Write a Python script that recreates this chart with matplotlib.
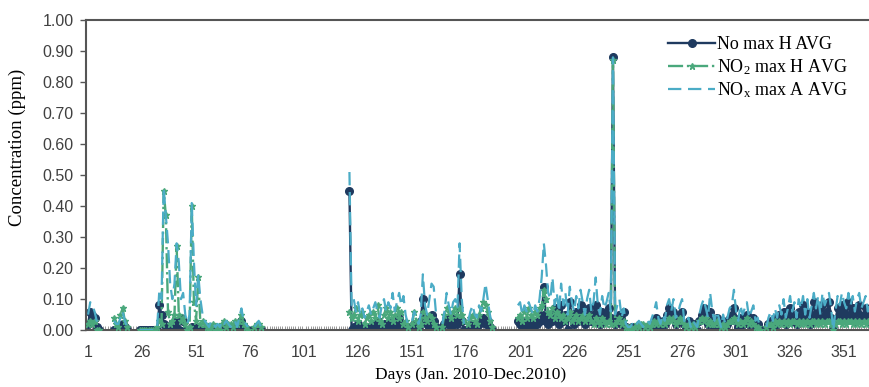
import numpy as np
import matplotlib
matplotlib.use('Agg')
import matplotlib.pyplot as plt
from matplotlib.ticker import MultipleLocator, FormatStrFormatter

nan = np.nan

# daily maxima / averages, day 1..365 (nan = no data)
no_max_h = [
    0.02, 0.06, 0.05, 0.04, 0.01, 0.00, nan, nan, nan, nan,
    nan, nan, 0.00, 0.00, 0.00, 0.01, 0.02, 0.01, 0.00, nan,
    nan, nan, nan, nan, 0.00, 0.00, 0.00, 0.00, 0.00, 0.00,
    0.00, 0.00, 0.00, 0.08, 0.05, 0.02, 0.00, 0.00, 0.01, 0.02,
    0.01, 0.03, 0.00, 0.04, 0.03, 0.00, 0.00, 0.00, 0.01, 0.00,
    0.00, 0.01, 0.00, 0.00, 0.00, 0.01, 0.00, 0.00, 0.00, 0.00,
    0.00, 0.00, 0.01, 0.00, 0.00, 0.01, 0.00, 0.01, 0.00, 0.01,
    0.02, 0.03, 0.01, 0.00, 0.00, nan, nan, 0.00, 0.00, 0.00,
    0.00, nan, nan, nan, nan, nan, nan, nan, nan, nan,
    nan, nan, nan, nan, nan, nan, nan, nan, nan, nan,
    nan, nan, nan, nan, nan, nan, nan, nan, nan, nan,
    nan, nan, nan, nan, nan, nan, nan, nan, nan, nan,
    nan, 0.45, 0.00, 0.01, 0.00, 0.02, 0.00, 0.01, 0.00, 0.00,
    0.01, 0.00, 0.02, 0.00, 0.03, 0.01, 0.00, 0.02, 0.01, 0.00,
    0.03, 0.02, 0.00, 0.01, 0.04, 0.02, 0.00, 0.01, 0.00, nan,
    0.01, 0.02, 0.01, 0.00, 0.03, 0.10, 0.04, 0.02, 0.01, 0.05,
    0.03, 0.01, nan, nan, 0.00, 0.02, 0.04, 0.03, 0.01, 0.03,
    0.04, 0.02, 0.18, 0.03, 0.00, nan, 0.00, 0.01, 0.02, 0.01,
    0.00, 0.02, 0.03, 0.04, 0.02, 0.03, 0.01, 0.00, nan, nan,
    nan, nan, nan, nan, nan, nan, nan, nan, nan, 0.03,
    0.02, 0.00, 0.01, 0.03, 0.02, 0.00, 0.01, 0.03, 0.02, 0.03,
    0.05, 0.14, 0.03, 0.02, 0.05, 0.03, 0.07, 0.04, 0.02, 0.08,
    0.03, 0.05, 0.00, 0.09, 0.04, 0.02, 0.06, 0.03, 0.08, 0.05,
    0.02, 0.04, 0.07, 0.03, 0.05, 0.08, 0.04, 0.02, 0.06, 0.03,
    0.05, 0.07, 0.04, 0.88, 0.02, 0.03, 0.05, 0.02, 0.06, 0.01,
    0.00, 0.00, 0.01, 0.00, 0.00, 0.00, 0.01, 0.00, 0.00, 0.01,
    0.00, 0.02, 0.01, 0.04, 0.02, 0.00, 0.03, 0.02, 0.05, 0.07,
    0.04, 0.06, 0.02, 0.03, 0.05, 0.06, 0.02, 0.01, 0.03, 0.00,
    0.02, 0.01, 0.00, 0.03, 0.05, 0.07, 0.04, 0.02, 0.06, 0.03,
    0.01, 0.04, 0.02, 0.00, 0.03, 0.01, 0.02, 0.04, 0.05, 0.07,
    0.03, 0.01, 0.04, 0.02, 0.03, 0.05, 0.02, 0.03, 0.04, 0.01,
    0.02, 0.00, nan, nan, 0.00, 0.02, 0.03, 0.01, 0.04, 0.02,
    0.05, 0.03, 0.06, 0.02, 0.04, 0.07, 0.03, 0.05, 0.02, 0.06,
    0.04, 0.08, 0.03, 0.06, 0.02, 0.05, 0.09, 0.04, 0.07, 0.03,
    0.08, 0.05, 0.06, 0.09, 0.04, 0.00, 0.03, 0.07, 0.05, 0.08,
    0.06, 0.04, 0.09, 0.05, 0.07, 0.03, 0.06, 0.08, 0.04, 0.05,
    0.07, 0.03, 0.06, 0.04, 0.05,
]

no2_max_h = [
    0.02, 0.03, 0.02, 0.03, 0.00, 0.00, nan, nan, nan, nan,
    nan, nan, 0.04, 0.02, 0.01, 0.05, 0.07, 0.03, 0.01, nan,
    nan, nan, nan, nan, 0.00, 0.00, 0.00, 0.00, 0.00, 0.00,
    0.00, 0.00, 0.01, 0.03, 0.02, 0.45, 0.37, 0.06, 0.02, 0.03,
    0.05, 0.27, 0.05, 0.03, 0.04, 0.02, 0.00, 0.01, 0.40, 0.09,
    0.03, 0.17, 0.02, 0.03, 0.02, 0.01, 0.00, 0.01, 0.02, 0.00,
    0.01, 0.00, 0.02, 0.03, 0.01, 0.02, 0.02, 0.01, 0.03, 0.02,
    0.03, 0.05, 0.02, 0.01, 0.00, nan, nan, 0.01, 0.02, 0.02,
    0.01, nan, nan, nan, nan, nan, nan, nan, nan, nan,
    nan, nan, nan, nan, nan, nan, nan, nan, nan, nan,
    nan, nan, nan, nan, nan, nan, nan, nan, nan, nan,
    nan, nan, nan, nan, nan, nan, nan, nan, nan, nan,
    nan, 0.06, 0.04, 0.05, 0.07, 0.03, 0.05, 0.06, 0.02, 0.04,
    0.05, 0.03, 0.06, 0.04, 0.08, 0.03, 0.02, 0.05, 0.07, 0.04,
    0.06, 0.03, 0.05, 0.07, 0.04, 0.06, 0.02, 0.03, 0.01, nan,
    0.02, 0.06, 0.03, 0.01, 0.02, 0.06, 0.04, 0.03, 0.05, 0.04,
    0.02, 0.01, nan, nan, 0.01, 0.05, 0.07, 0.06, 0.04, 0.06,
    0.07, 0.05, 0.07, 0.05, 0.03, nan, 0.02, 0.04, 0.05, 0.03,
    0.02, 0.05, 0.07, 0.09, 0.08, 0.06, 0.03, 0.01, nan, nan,
    nan, nan, nan, nan, nan, nan, nan, nan, nan, 0.04,
    0.05, 0.03, 0.06, 0.04, 0.07, 0.05, 0.04, 0.06, 0.05, 0.07,
    0.08, 0.13, 0.10, 0.06, 0.05, 0.07, 0.04, 0.06, 0.05, 0.04,
    0.05, 0.03, 0.04, 0.06, 0.03, 0.04, 0.05, 0.03, 0.04, 0.05,
    0.03, 0.04, 0.05, 0.03, 0.02, 0.04, 0.03, 0.02, 0.04, 0.03,
    0.02, 0.03, 0.02, 0.87, 0.02, 0.03, 0.04, 0.02, 0.03, 0.01,
    0.01, 0.01, 0.00, 0.01, 0.02, 0.01, 0.02, 0.02, 0.01, 0.02,
    0.01, 0.02, 0.03, 0.02, 0.03, 0.02, 0.03, 0.02, 0.03, 0.04,
    0.03, 0.04, 0.02, 0.03, 0.04, 0.03, 0.02, 0.01, 0.02, 0.01,
    0.02, 0.01, 0.02, 0.03, 0.04, 0.03, 0.04, 0.02, 0.03, 0.02,
    0.02, 0.03, 0.02, 0.01, 0.02, 0.01, 0.02, 0.03, 0.03, 0.04,
    0.03, 0.02, 0.03, 0.02, 0.03, 0.04, 0.02, 0.03, 0.02, 0.01,
    0.01, 0.00, nan, nan, 0.01, 0.02, 0.02, 0.01, 0.03, 0.02,
    0.03, 0.02, 0.03, 0.02, 0.03, 0.02, 0.03, 0.03, 0.02, 0.03,
    0.02, 0.03, 0.02, 0.03, 0.02, 0.03, 0.03, 0.02, 0.03, 0.02,
    0.03, 0.02, 0.03, 0.03, 0.02, 0.00, 0.02, 0.03, 0.03, 0.02,
    0.03, 0.02, 0.03, 0.03, 0.02, 0.03, 0.02, 0.03, 0.02, 0.03,
    0.02, 0.03, 0.03, 0.02, 0.03,
]

nox_max_a = [
    0.05, 0.09, 0.08, 0.06, 0.03, 0.01, nan, nan, nan, nan,
    nan, nan, 0.03, 0.02, 0.02, 0.04, 0.06, 0.03, 0.01, nan,
    nan, nan, nan, nan, 0.00, 0.00, 0.00, 0.00, 0.00, 0.00,
    0.00, 0.00, 0.01, 0.13, 0.10, 0.46, 0.37, 0.28, 0.15, 0.10,
    0.15, 0.28, 0.22, 0.10, 0.12, 0.05, 0.02, 0.05, 0.41, 0.22,
    0.08, 0.18, 0.10, 0.05, 0.03, 0.02, 0.01, 0.03, 0.02, 0.01,
    0.02, 0.01, 0.03, 0.02, 0.03, 0.02, 0.01, 0.02, 0.03, 0.01,
    0.04, 0.07, 0.03, 0.02, 0.01, nan, nan, 0.01, 0.02, 0.03,
    0.01, nan, nan, nan, nan, nan, nan, nan, nan, nan,
    nan, nan, nan, nan, nan, nan, nan, nan, nan, nan,
    nan, nan, nan, nan, nan, nan, nan, nan, nan, nan,
    nan, nan, nan, nan, nan, nan, nan, nan, nan, nan,
    nan, 0.51, 0.08, 0.10, 0.06, 0.09, 0.05, 0.07, 0.04, 0.06,
    0.08, 0.05, 0.07, 0.09, 0.06, 0.04, 0.08, 0.10, 0.06, 0.09,
    0.07, 0.12, 0.06, 0.09, 0.12, 0.08, 0.11, 0.05, 0.02, nan,
    0.03, 0.06, 0.04, 0.02, 0.05, 0.18, 0.08, 0.05, 0.10, 0.15,
    0.14, 0.06, nan, nan, 0.02, 0.06, 0.12, 0.08, 0.05, 0.09,
    0.10, 0.07, 0.28, 0.10, 0.02, nan, 0.03, 0.06, 0.08, 0.05,
    0.04, 0.08, 0.06, 0.10, 0.15, 0.10, 0.05, 0.02, nan, nan,
    nan, nan, nan, nan, nan, nan, nan, nan, nan, 0.08,
    0.09, 0.05, 0.08, 0.06, 0.09, 0.07, 0.05, 0.08, 0.06, 0.10,
    0.17, 0.28, 0.21, 0.12, 0.10, 0.17, 0.08, 0.12, 0.06, 0.15,
    0.08, 0.12, 0.05, 0.14, 0.09, 0.06, 0.11, 0.07, 0.13, 0.09,
    0.05, 0.10, 0.13, 0.06, 0.09, 0.17, 0.08, 0.05, 0.11, 0.07,
    0.09, 0.12, 0.06, 0.88, 0.05, 0.08, 0.10, 0.04, 0.07, 0.02,
    0.01, 0.01, 0.02, 0.01, 0.02, 0.03, 0.02, 0.01, 0.02, 0.03,
    0.02, 0.04, 0.06, 0.09, 0.04, 0.02, 0.05, 0.03, 0.08, 0.10,
    0.06, 0.10, 0.04, 0.05, 0.08, 0.10, 0.03, 0.02, 0.04, 0.01,
    0.03, 0.02, 0.01, 0.05, 0.08, 0.10, 0.07, 0.04, 0.12, 0.06,
    0.03, 0.06, 0.04, 0.01, 0.05, 0.02, 0.04, 0.07, 0.08, 0.13,
    0.06, 0.03, 0.08, 0.05, 0.07, 0.09, 0.04, 0.06, 0.08, 0.03,
    0.04, 0.01, nan, nan, 0.01, 0.04, 0.06, 0.03, 0.07, 0.04,
    0.08, 0.05, 0.10, 0.04, 0.07, 0.11, 0.06, 0.09, 0.04, 0.10,
    0.07, 0.11, 0.05, 0.10, 0.04, 0.08, 0.12, 0.07, 0.11, 0.05,
    0.12, 0.08, 0.10, 0.12, 0.07, 0.00, 0.06, 0.11, 0.08, 0.12,
    0.09, 0.07, 0.12, 0.08, 0.11, 0.06, 0.10, 0.12, 0.07, 0.09,
    0.11, 0.06, 0.10, 0.07, 0.09,
]

days = np.arange(1, 366)
tick_days = list(range(1, 366, 25))

plt.rcParams['mathtext.fontset'] = 'custom'
plt.rcParams['mathtext.rm'] = 'Liberation Serif'
plt.rcParams['mathtext.it'] = 'Liberation Serif'

fig = plt.figure(figsize=(8.7, 3.87), dpi=100)
ax = fig.add_axes([0.099, 0.147, 0.901, 0.801])

ax.plot(days, no_max_h, color='#1f3a5f', lw=1.7, marker='o', ms=5.5,
        label='No max H AVG', zorder=2)
ax.plot(days, no2_max_h, color='#4aa87c', lw=1.7, ls='-.', marker='*', ms=5,
        label='NO$_2$ max H AVG', zorder=3)
ax.plot(days, nox_max_a, color='#4bacc6', lw=1.6, ls=(0, (6, 3)),
        label='NO$_\\mathrm{x}$ max A AVG', zorder=4)

ax.set_xlim(0.1, 363)
ax.set_ylim(0, 1.0)
ax.set_xticks(tick_days)
ax.xaxis.set_minor_locator(MultipleLocator(1))
ax.yaxis.set_major_locator(MultipleLocator(0.1))
ax.yaxis.set_major_formatter(FormatStrFormatter('%.2f'))

for s in ['left', 'top', 'bottom']:
    ax.spines[s].set_color('#555555')
    ax.spines[s].set_linewidth(1.5)
ax.spines['right'].set_visible(False)

ax.tick_params(axis='x', which='major', length=0, pad=11,
               labelsize=11.5, labelcolor='#404040')
ax.tick_params(axis='x', which='minor', direction='in', length=3,
               width=0.6, color='#888888')
ax.tick_params(axis='y', length=4, width=1, color='#555555', pad=5,
               labelsize=11.5, labelcolor='#404040')
for lab in ax.get_xticklabels() + ax.get_yticklabels():
    lab.set_fontfamily('Liberation Sans')

ax.set_xlabel('Days (Jan. 2010-Dec.2010)', fontfamily='Liberation Serif',
              fontsize=12.5)
ax.xaxis.set_label_coords(0.49, -0.12)
ax.set_ylabel('Concentration (ppm)', fontfamily='Liberation Serif',
              fontsize=13.5)
ax.yaxis.set_label_coords(-0.077, 0.59)

leg = ax.legend(loc='upper left', bbox_to_anchor=(0.722, 1.0), frameon=False,
                prop={'family': 'Liberation Serif', 'size': 13},
                handlelength=2.6, handletextpad=0.1, labelspacing=0.2)

fig.savefig('out.png', dpi=100)
